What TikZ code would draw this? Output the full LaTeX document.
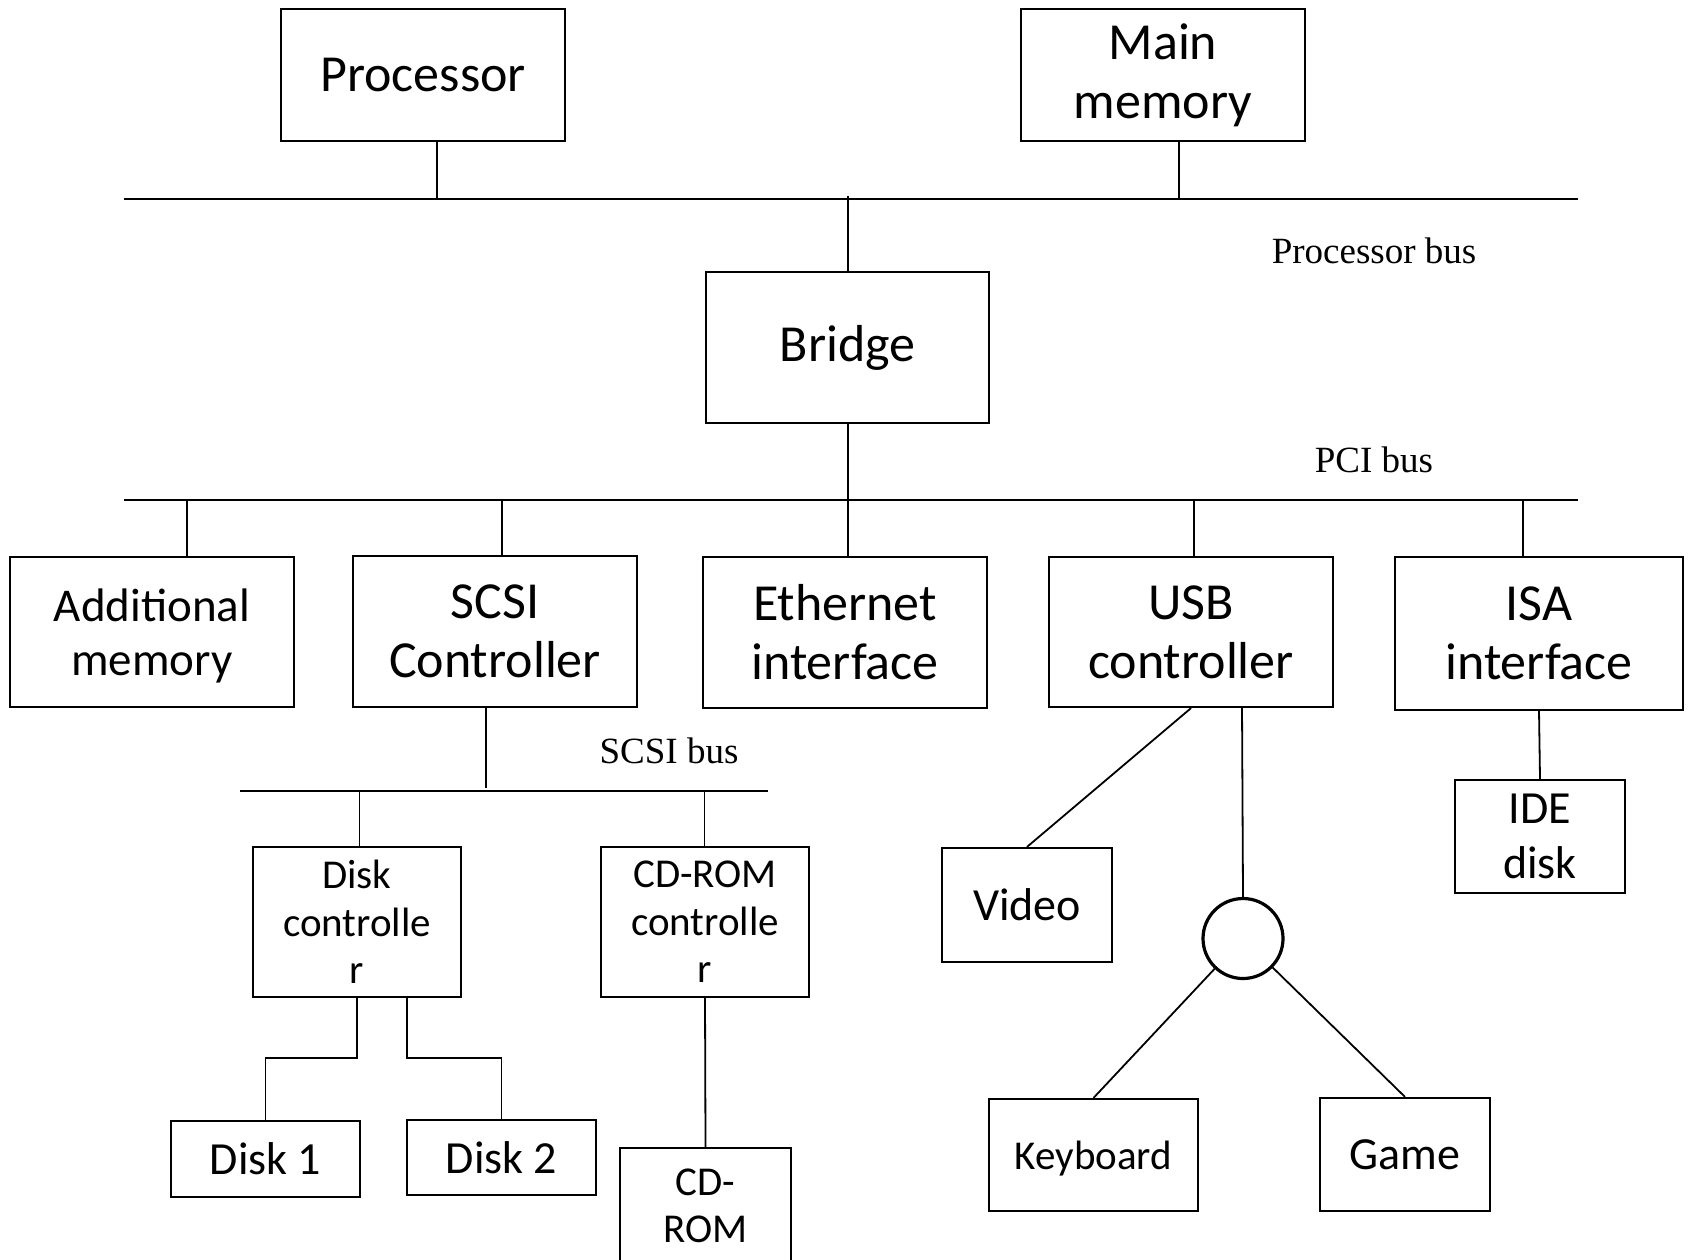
\documentclass[tikz,border=0pt]{standalone}
\usepackage{fontspec}
\setmainfont{Carlito}
\newfontfamily\busfont{Liberation Serif}
\begin{document}
\begin{tikzpicture}[x=0.5pt,y=-0.5pt,
  box/.style={draw, line width=1.1pt, inner sep=0pt, align=center},
  big/.style={font=\fontsize{26}{29.5}\selectfont},
  mid/.style={font=\fontsize{23}{27.5}\selectfont},
  addm/.style={font=\fontsize{23.5}{27.3}\selectfont},
  small/.style={font=\fontsize{20.5}{23.8}\selectfont},
  bus/.style={line width=1.15pt},
  link/.style={line width=0.9pt},
  buslabel/.style={font=\busfont\fontsize{18.5}{22}\selectfont, inner sep=0pt}]
\useasboundingbox (0,0) rectangle (1689,1259);

% top level
\node[box,big,minimum width=142pt,minimum height=66pt] (proc) at (423,75) {Processor};
\node[box,big,minimum width=142pt,minimum height=66pt] (mem) at (1163,75) {Main\\memory};

% processor bus
\coordinate (pbL) at (124,199);
\coordinate (pbR) at (1578,199);
\draw[bus] (pbL) -- (pbR);
\node[buslabel] (pblab) at (1374,251) {Processor bus};

\node[box,big,minimum width=141.5pt,minimum height=75.5pt] (bridge) at (847.5,347.5) {Bridge};

% PCI bus
\coordinate (pciL) at (124,500);
\coordinate (pciR) at (1578,500);
\draw[bus] (pciL) -- (pciR);
\node[buslabel] (pcilab) at (1374,460) {PCI bus};

% devices on the PCI bus
\node[box,addm,text depth=0pt,minimum width=142pt,minimum height=75pt] (addmem) at (152,632) {Additional\\memory};
\node[box,big,minimum width=142pt,minimum height=75.5pt] (scsi) at (495,631.5) {SCSI\\Controller};
\node[box,big,minimum width=142pt,minimum height=75.5pt] (eth) at (845,632.5) {Ethernet\\interface};
\node[box,big,minimum width=142pt,minimum height=75pt] (usb) at (1191,632) {USB\\controller};
\node[box,big,minimum width=144pt,minimum height=76.5pt] (isa) at (1539,633.5) {ISA\\interface};

% SCSI bus
\coordinate (sbL) at (240,791);
\coordinate (sbR) at (768,791);
\draw[bus] (sbL) -- (sbR);
\node[buslabel] (sblab) at (669,751) {SCSI bus};

\node[box,small,minimum width=104pt,minimum height=75pt] (dctl) at (357,922) {Disk\\controlle\\r};
\node[box,small,minimum width=104pt,minimum height=75pt] (cdctl) at (705,922) {CD-ROM\\controlle\\r};
\node[box,mid,minimum width=94.5pt,minimum height=38pt] (disk1) at (265.5,1159) {Disk 1};
\node[box,mid,minimum width=94.5pt,minimum height=37.5pt] (disk2) at (501.5,1157.5) {Disk 2};
\node[box,small,minimum width=85.5pt,minimum height=58pt] (cdrom) at (705.5,1206) {CD-\\ROM};

% USB side
\node[box,mid,minimum width=85pt,minimum height=57pt] (video) at (1027,905) {Video};
\node[draw,circle,line width=1.6pt,minimum size=40pt,inner sep=0pt] (hub) at (1243,938.5) {};
\node[box,small,text depth=0pt,minimum width=104.5pt,minimum height=56pt] (kbd) at (1093.5,1155) {Keyboard};
\node[box,mid,minimum width=85pt,minimum height=56.5pt] (game) at (1405,1154.5) {Game};
\node[box,mid,minimum width=85pt,minimum height=56.5pt] (ide) at (1540,836.5) {IDE\\disk};

% taps on the processor bus
\coordinate (tproc) at (437,199);
\coordinate (tmem) at (1179,199);
\coordinate (tbr) at (848,196);
\draw[link] (proc.south -| tproc) -- (tproc);
\draw[link] (mem.south -| tmem) -- (tmem);
\draw[link] (tbr) -- (bridge.north -| tbr);

% taps on the PCI bus
\coordinate (tbr2) at (848,500);
\coordinate (tadd) at (187,500);
\coordinate (tscsi) at (502,500);
\coordinate (tusb) at (1194,500);
\coordinate (tisa) at (1523,500);
\draw[link] (bridge.south -| tbr2) -- (eth.north -| tbr2);
\draw[link] (tadd) -- (addmem.north -| tadd);
\draw[link] (tscsi) -- (scsi.north -| tscsi);
\draw[link] (tusb) -- (usb.north -| tusb);
\draw[link] (tisa) -- (isa.north -| tisa);

% taps on the SCSI bus
\coordinate (tsc) at (486,788);
\coordinate (tdc) at (359.5,791);
\coordinate (tcd) at (704.5,791);
\draw[link] (scsi.south -| tsc) -- (tsc);
\draw[link] (tdc) -- (dctl.north -| tdc);
\draw[link] (tcd) -- (cdctl.north -| tcd);

% disk controller to its drives
\coordinate (d1a) at (357,1058);
\coordinate (d2a) at (407,1058);
\draw[link] (dctl.south -| d1a) -- (d1a) -| (disk1.north);
\draw[link] (dctl.south -| d2a) -- (d2a) -| (disk2.north);
\draw[link] (cdctl.south) -- (cdrom.north);

% USB devices
\coordinate (uh) at (1242,707);
\draw[link] (usb.south) -- (video.north);
\draw[link] (uh) -- (hub.north);
\draw[link] (hub) -- (kbd.north);
\draw[link] (hub) -- (game.north);

% ISA to IDE disk
\draw[link] (isa.south) -- (ide.north);
\end{tikzpicture}
\end{document}
